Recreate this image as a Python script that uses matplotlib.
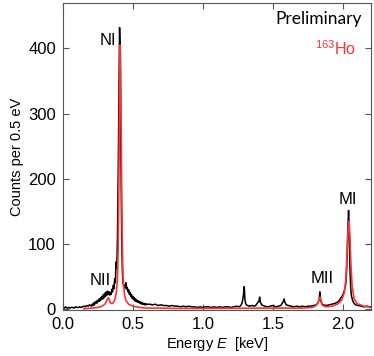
import numpy as np
import matplotlib.pyplot as plt

plt.rcParams['font.family'] = ['Liberation Sans', 'DejaVu Sans']
plt.rcParams['mathtext.fontset'] = 'custom'
plt.rcParams['mathtext.rm'] = 'Liberation Sans'
plt.rcParams['mathtext.it'] = 'Liberation Sans:italic'

meas_E = [0.00, 0.01, 0.02, 0.03, 0.04, 0.05, 0.06, 0.07, 0.08, 0.09, 0.10,
          0.11, 0.12, 0.13, 0.14, 0.15, 0.16, 0.17, 0.18, 0.19, 0.20,
          0.205, 0.21, 0.215, 0.22, 0.225, 0.23, 0.235, 0.24, 0.245, 0.25,
          0.255, 0.26, 0.265, 0.27, 0.275, 0.28, 0.285, 0.29, 0.295, 0.30,
          0.305, 0.31, 0.315, 0.32, 0.325, 0.33, 0.335, 0.34, 0.345, 0.35,
          0.355, 0.36, 0.365, 0.37, 0.375, 0.38, 0.385, 0.39, 0.395,
          0.40, 0.405, 0.41, 0.415, 0.42, 0.425,
          0.43, 0.435, 0.44, 0.445, 0.45, 0.455, 0.46, 0.465, 0.47, 0.475,
          0.48, 0.485, 0.49, 0.495, 0.50, 0.505, 0.51, 0.515, 0.52, 0.525,
          0.53, 0.535, 0.54, 0.545, 0.55, 0.555, 0.56, 0.565, 0.57, 0.575,
          0.58, 0.585, 0.59, 0.595, 0.60,
          0.62, 0.64, 0.66, 0.68, 0.70, 0.72, 0.74, 0.76, 0.78, 0.80,
          0.82, 0.84, 0.86, 0.88, 0.90, 0.92, 0.94, 0.96, 0.98, 1.00,
          1.02, 1.04, 1.06, 1.08, 1.10, 1.12, 1.14, 1.16, 1.18, 1.20,
          1.22, 1.24, 1.26,
          1.27, 1.28, 1.285, 1.29, 1.295, 1.30, 1.305, 1.31, 1.33, 1.35,
          1.37, 1.38, 1.39, 1.40, 1.405, 1.41, 1.42, 1.44, 1.46, 1.48,
          1.50, 1.52, 1.54, 1.555, 1.565, 1.575, 1.58, 1.585, 1.595, 1.61,
          1.63, 1.65, 1.67, 1.69, 1.71, 1.73, 1.75, 1.77, 1.79, 1.81,
          1.82, 1.83, 1.835, 1.84, 1.85, 1.86, 1.88, 1.90, 1.92, 1.94,
          1.96, 1.97, 1.98, 1.99, 2.00, 2.01, 2.02, 2.025, 2.03, 2.035,
          2.04, 2.045, 2.05, 2.055, 2.06, 2.07, 2.08, 2.09, 2.11, 2.13,
          2.15, 2.17, 2.19, 2.20]
meas_counts = [2, 1, 3, 1, 2, 1, 2, 2, 1, 3, 2,
               2, 3, 2, 3, 4, 3, 5, 4, 6, 5,
               4, 7, 5, 9, 6, 10, 8, 12, 9, 13,
               11, 15, 12, 17, 14, 19, 15, 22, 17, 24,
               19, 26, 21, 27, 22, 26, 21, 25, 22, 30,
               26, 36, 31, 46, 40, 72, 62, 110, 200,
               320, 432, 395, 230, 110, 58,
               40, 33, 37, 32, 40, 30, 33, 26, 29, 22,
               25, 19, 22, 16, 19, 14, 17, 12, 15, 11,
               13, 10, 12, 9, 11, 8, 10, 7, 9, 7,
               8, 6, 8, 6, 7,
               7, 6, 7, 5, 6, 5, 5, 4, 5, 4,
               4, 3, 4, 3, 4, 3, 3, 2, 3, 2,
               3, 3, 2, 3, 2, 3, 2, 3, 3, 2,
               3, 4, 3,
               5, 9, 16, 22, 34, 14, 8, 6, 4, 5,
               4, 6, 9, 12, 18, 10, 6, 4, 3, 4,
               5, 3, 4, 5, 8, 12, 15, 10, 6, 5,
               4, 3, 4, 3, 4, 3, 4, 4, 5, 6,
               9, 14, 26, 13, 7, 6, 5, 6, 7, 8,
               10, 12, 15, 18, 22, 28, 38, 55, 85, 125,
               151, 110, 60, 32, 20, 12, 8, 6, 5, 4,
               3, 4, 3, 3]

# Fitted 163Ho spectrum (red)
fit_E = [0.15, 0.20, 0.25, 0.28, 0.30, 0.31, 0.32, 0.325, 0.33, 0.335,
         0.34, 0.35, 0.36, 0.37, 0.38, 0.39, 0.395, 0.40, 0.405, 0.41,
         0.415, 0.42, 0.425, 0.43, 0.44, 0.45, 0.47, 0.50, 0.55, 0.60,
         0.70, 0.80, 1.00, 1.50, 1.70, 1.78, 1.81, 1.825, 1.837, 1.845,
         1.855, 1.88, 1.92, 1.96, 1.99, 2.01, 2.02, 2.03, 2.037, 2.043,
         2.049, 2.055, 2.065, 2.08, 2.10, 2.15, 2.20]
fit_counts = [0, 1, 2, 4, 7, 11, 15, 17, 15, 12,
              9, 8, 9, 13, 22, 45, 90, 190, 330, 405,
              330, 190, 95, 48, 22, 13, 7, 4, 2, 1,
              1, 0.5, 0.5, 1, 1, 2, 5, 11, 18, 11,
              5, 3, 4, 7, 13, 25, 45, 90, 125, 134,
              115, 75, 35, 15, 8, 4, 2]

peak_names = ['NI', 'NII', 'MII', 'MI']
peak_label_E = [0.325, 0.27, 1.85, 2.035]
peak_label_y = [412, 43, 46, 168]

fig = plt.figure(figsize=(3.74, 3.56), dpi=100)
ax = fig.add_axes([0.168, 0.129, 0.824, 0.863])

ax.plot(meas_E, meas_counts, color='black', lw=1.1)
ax.plot(fit_E, fit_counts, color='#ff3333', lw=1.2)

for name, xe, ye in zip(peak_names, peak_label_E, peak_label_y):
    ax.text(xe, ye, name, fontsize=12, ha='center', va='center')

ax.text(2.136, 445, 'Preliminary', fontsize=12.5, ha='right', va='center',
        family=['Lato', 'DejaVu Sans'])
ax.text(2.093, 400, r'$^{\mathrm{163}}$Ho', fontsize=11.5, ha='right',
        va='center', color='#ff3333')

ax.set_xlim(0, 2.2)
ax.set_ylim(-2, 470)
ax.set_xticks([0.0, 0.5, 1.0, 1.5, 2.0])
ax.set_xticklabels(['0.0', '0.5', '1.0', '1.5', '2.0'])
ax.set_yticks([0, 100, 200, 300, 400])
ax.tick_params(direction='in', top=True, right=True, length=4,
               width=0.8, color='#555555', labelsize=12, pad=5)
for s in ax.spines.values():
    s.set_color('#555555')
    s.set_linewidth(0.8)

ax.set_xlabel(r'Energy $\it{E}$  [keV]', fontsize=10.5, labelpad=2)
ax.set_ylabel('Counts per 0.5 eV', fontsize=10.5, labelpad=3)

fig.savefig('out.png', dpi=100)
